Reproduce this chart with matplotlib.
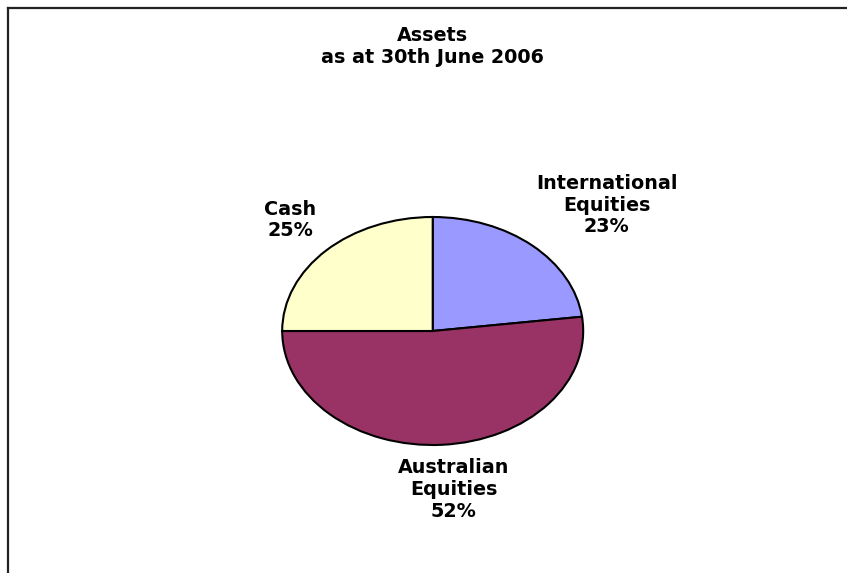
import matplotlib
matplotlib.use("Agg")
import matplotlib.pyplot as plt
from matplotlib.lines import Line2D

# data
categories = ["International\nEquities", "Australian\nEquities", "Cash"]
shares = [23, 52, 25]
colors = ["#9999FF", "#993366", "#FFFFCC"]
title = "Assets\nas at 30th June 2006"

# label spots, in pie radius units (pie is stretched wide)
label_xy = [(1.157, 1.105), (0.14, -1.39), (-0.947, 0.974)]

W, H = 847, 573
fig = plt.figure(figsize=(W / 100, H / 100), dpi=100)
fig.patch.set_facecolor("white")

# pie area: x 282..583 px, y 217..445 px from top
ax = fig.add_axes([282.2 / W, (H - 445) / H, 301 / W, 228 / H])
wedges, _ = ax.pie(shares, colors=colors, startangle=90, counterclock=False,
                   radius=1, wedgeprops=dict(edgecolor="black", linewidth=1.5))
ax.set_aspect("auto")
ax.set_xlim(-1.0, 1.0)
ax.set_ylim(-1.0, 1.0)
ax.axis("off")

font = dict(family="DejaVu Sans", weight="bold", size=13.8)
for name, val, (x, y) in zip(categories, shares, label_xy):
    ax.text(x, y, "%s\n%d%%" % (name, val), ha="center", va="center",
            linespacing=1.18, clip_on=False, **font)

fig.text(432.5 / W, 1 - 46.5 / H, title, ha="center", va="center",
         linespacing=1.18, **font)

# chart area border (cut off at right and bottom)
fig.add_artist(Line2D([7.5 / W, 1.01], [1 - 7.5 / H, 1 - 7.5 / H],
                      transform=fig.transFigure, color="#222222", lw=1.6))
fig.add_artist(Line2D([7.5 / W, 7.5 / W], [1 - 7.5 / H, -0.01],
                      transform=fig.transFigure, color="#222222", lw=1.6))

fig.savefig("out.png", dpi=100, facecolor="white")
